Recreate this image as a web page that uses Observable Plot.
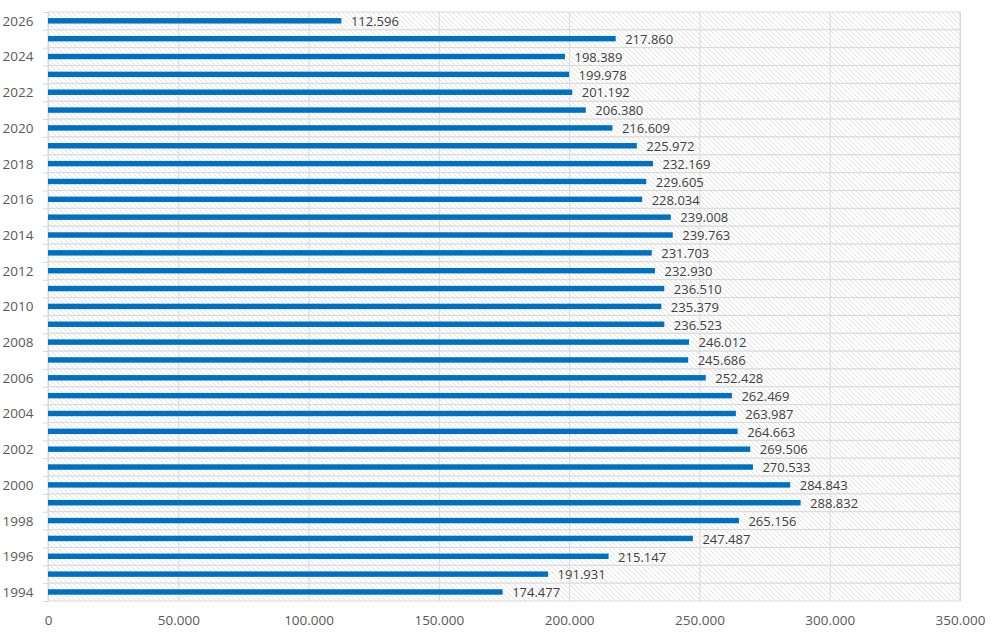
<!DOCTYPE html>
<html>
<head>
<meta charset="utf-8">
<script src="https://cdn.jsdelivr.net/npm/d3@7"></script>
<script src="https://cdn.jsdelivr.net/npm/@observablehq/plot@0.6"></script>
<style>
  html, body { margin: 0; padding: 0; background: #fff; }
  #chart { width: 995px; height: 635px; }
</style>
</head>
<body>
<div id="chart"></div>
<script>
const years = [2026, 2025, 2024, 2023, 2022, 2021, 2020, 2019, 2018, 2017, 2016, 2015, 2014, 2013, 2012, 2011, 2010, 2009, 2008, 2007, 2006, 2005, 2004, 2003, 2002, 2001, 2000, 1999, 1998, 1997, 1996, 1995, 1994];
const values = [112596, 217860, 198389, 199978, 201192, 206380, 216609, 225972, 232169, 229605, 228034, 239008, 239763, 231703, 232930, 236510, 235379, 236523, 246012, 245686, 252428, 262469, 263987, 264663, 269506, 270533, 284843, 288832, 265156, 247487, 215147, 191931, 174477];
const xTicks = [0, 50000, 100000, 150000, 200000, 250000, 300000, 350000];
const labelYears = [2026, 2024, 2022, 2020, 2018, 2016, 2014, 2012, 2010, 2008, 2006, 2004, 2002, 2000, 1998, 1996, 1994];

const data = years.map((y, i) => ({year: y, value: values[i]}));
const fmt = v => d3.format(",")(v).replace(/,/g, ".");
const boundaries = years.map(y => y + 0.5).concat([years[years.length - 1] - 0.5]);

const svg = Plot.plot({
  width: 995,
  height: 635,
  marginLeft: 48,
  marginRight: 35,
  marginTop: 12,
  marginBottom: 34,
  style: {fontFamily: "'Open Sans', sans-serif", background: "#fff"},
  x: {domain: [0, 350000]},
  y: {domain: [1993.5, 2026.5]},
  marks: [
    Plot.rect(data, {x1: 0, x2: 350000, y1: d => d.year - 0.5, y2: d => d.year + 0.5, fill: "url(#hatch)", stroke: "#d9d9d9", strokeWidth: 1}),
    Plot.ruleX(xTicks, {stroke: "#d9d9d9", strokeWidth: 1}),
    Plot.rect(data, {x1: 0, x2: "value", y1: d => d.year - 0.5, y2: d => d.year + 0.5, insetTop: 6.1, insetBottom: 6.3, fill: "#0070c0"}),
    Plot.text(data, {x: "value", y: "year", text: d => fmt(d.value), textAnchor: "start", dx: 9, dy: 0.5, fill: "#404040", fontSize: 13}),
    Plot.axisY(boundaries, {tickSize: 5, tickFormat: () => "", stroke: "#d9d9d9", label: null}),
    Plot.axisY(labelYears, {tickSize: 0, tickPadding: 15, tickFormat: d => String(d), fill: "#595959", fontSize: 13.5, label: null}),
    Plot.axisX(xTicks, {tickSize: 0, tickPadding: 14, tickFormat: fmt, fill: "#595959", fontSize: 13.5, label: null})
  ]
});

const defs = d3.select(svg).insert("defs", ":first-child");
const pat = defs.append("pattern")
  .attr("id", "hatch")
  .attr("patternUnits", "userSpaceOnUse")
  .attr("width", 5).attr("height", 5);
pat.append("rect").attr("width", 5).attr("height", 5).attr("fill", "#fff");
pat.append("path")
  .attr("d", "M0,0L5,5M-1,4L1,6M4,-1L6,1")
  .attr("stroke", "#d6d6d6")
  .attr("stroke-width", 0.7)
  .attr("fill", "none");

document.getElementById("chart").appendChild(svg);
</script>
</body>
</html>
